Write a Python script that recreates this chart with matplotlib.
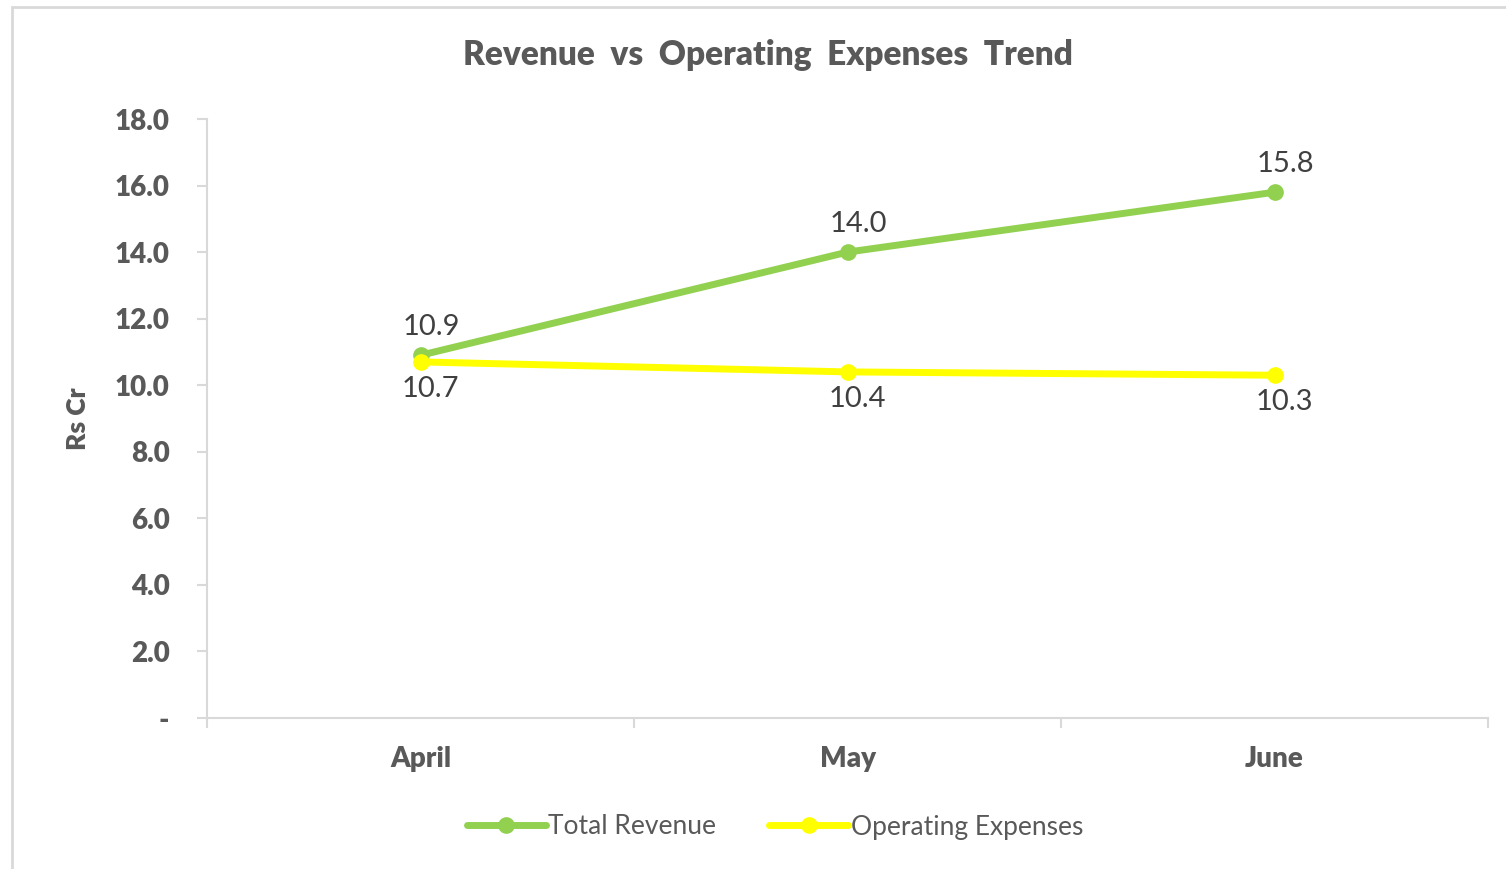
import matplotlib
matplotlib.use("Agg")
import matplotlib.pyplot as plt
from matplotlib.patches import Rectangle
from matplotlib.ticker import FixedLocator, FuncFormatter

months = ["April", "May", "June"]
revenue = [10.9, 14.0, 15.8]
expenses = [10.7, 10.4, 10.3]
yticks = [0, 2, 4, 6, 8, 10, 12, 14, 16, 18]

plt.rcParams['font.family'] = ['Lato', 'DejaVu Sans']
grey = '#595959'
green = '#92D050'
yellow = '#FFFF00'

fig = plt.figure(figsize=(15.06, 8.69), dpi=100)
fig.patches.append(Rectangle((12 / 1506, -0.1), 1.2, 1 - 7 / 869 + 0.1,
                             transform=fig.transFigure, fill=False,
                             edgecolor='#d9d9d9', linewidth=2))
ax = fig.add_axes([207 / 1506, 1 - 718 / 869, (1488 - 207) / 1506, (718 - 119) / 869])

x = list(range(len(months)))
ax.plot(x, revenue, color=green, linewidth=5, marker='o', markersize=11,
        label='Total Revenue', solid_capstyle='round')
ax.plot(x, expenses, color=yellow, linewidth=5, marker='o', markersize=11,
        label='Operating Expenses', solid_capstyle='round')

for i, v in enumerate(revenue):
    ax.annotate(f"{v:.1f}", (i, v), xytext=(8, 11), textcoords='offset points',
                ha='center', va='bottom', fontsize=21, color='#404040')
for i, v in enumerate(expenses):
    ax.annotate(f"{v:.1f}", (i, v), xytext=(7, -10), textcoords='offset points',
                ha='center', va='top', fontsize=21, color='#404040')

ax.set_xlim(-0.5, 2.5)
ax.set_ylim(0, 18)
ax.set_yticks(yticks)
ax.yaxis.set_major_formatter(FuncFormatter(lambda v, p: '-' if v == 0 else f"{v:.1f}"))
ax.set_xticks(x)
ax.set_xticklabels(months)
ax.xaxis.set_minor_locator(FixedLocator([-0.5, 0.5, 1.5, 2.5]))
ax.tick_params(axis='x', which='major', length=0, pad=20, labelsize=20, labelcolor=grey)
ax.tick_params(axis='x', which='minor', length=7, color='#d9d9d9', width=1.5, direction='out')
ax.tick_params(axis='y', length=7, color='#d9d9d9', width=1.5, pad=20, labelsize=20, labelcolor=grey)
for lab in ax.get_xticklabels() + ax.get_yticklabels():
    lab.set_fontweight('heavy')

for s in ['top', 'right']:
    ax.spines[s].set_visible(False)
for s in ['left', 'bottom']:
    ax.spines[s].set_color('#d9d9d9')
    ax.spines[s].set_linewidth(1.5)

ax.set_ylabel('Rs Cr', fontsize=19, fontweight='heavy', color=grey, labelpad=18)
fig.text(768 / 1506, 1 - 55 / 869, 'Revenue  vs  Operating  Expenses  Trend', fontsize=24,
         fontweight='heavy', color=grey, ha='center', va='center')

ax.legend(loc='center', bbox_to_anchor=((775 - 207) / 1281, -(827 - 718) / 599), ncol=2,
          frameon=False, fontsize=19, labelcolor=grey, handlelength=3.0, handletextpad=0.1,
          columnspacing=2.0)

fig.savefig('out.png', dpi=100)
